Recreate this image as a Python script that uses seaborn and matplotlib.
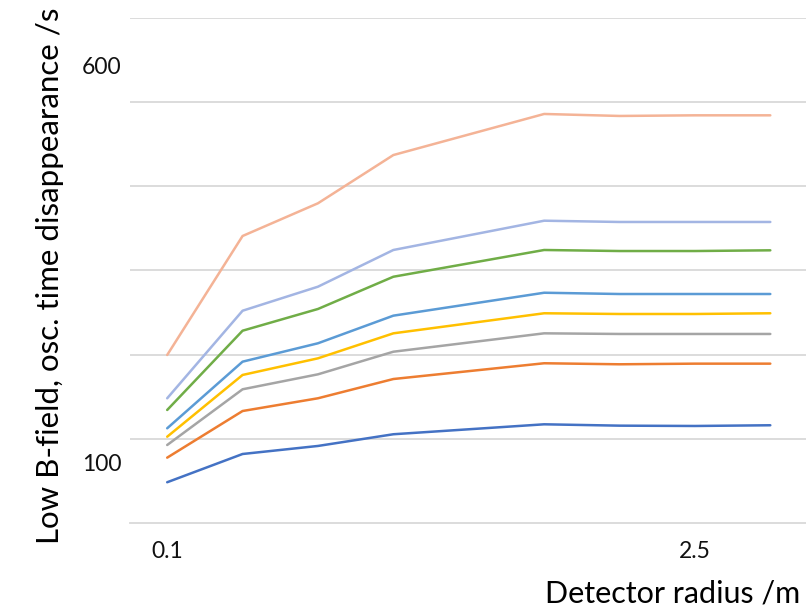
import numpy as np
import pandas as pd
import matplotlib
matplotlib.use("Agg")
import matplotlib.pyplot as plt
import seaborn as sns

# ---- data (category index on x; index 4 has no point, line connects 3 -> 5) ----
x_index = [0, 1, 2, 3, 5, 6, 7, 8]
x_tick_pos = [0, 7]
x_tick_labels = ["0.1", "2.5"]
y_tick_vals = [100, 600]
y_tick_labels = ["100", "600"]

s_darkblue = [75.8, 111.3, 121.4, 136.1, 148.6, 146.9, 146.5, 147.4]
s_orange   = [106.7, 165.3, 181.3, 205.5, 225.3, 224.0, 224.8, 224.8]
s_gray     = [122.6, 192.6, 211.4, 239.8, 262.9, 262.1, 262.1, 262.1]
s_yellow   = [133.0, 210.6, 231.5, 262.9, 288.1, 287.2, 287.2, 288.1]
s_blue     = [143.6, 227.3, 250.4, 285.1, 313.9, 312.3, 312.3, 312.3]
s_green    = [166.6, 266.2, 293.5, 334.0, 367.6, 366.3, 366.3, 367.2]
s_lavender = [181.3, 291.3, 321.5, 367.6, 404.4, 402.8, 402.8, 402.8]
s_salmon   = [235.7, 385.2, 426.3, 486.9, 538.5, 536.0, 536.8, 536.8]

series_names = ["s1", "s2", "s3", "s4", "s5", "s6", "s7", "s8"]
series_values = [s_darkblue, s_orange, s_gray, s_yellow, s_blue, s_green, s_lavender, s_salmon]
colors = ["#4472C4", "#ED7D31", "#A5A5A5", "#FFC000", "#5B9BD5", "#70AD47", "#A3B5E3", "#F4B396"]

rows = []
for name, vals in zip(series_names, series_values):
    for xi, v in zip(x_index, vals):
        rows.append({"x": xi, "y": v, "series": name})
df = pd.DataFrame(rows)

sns.set_theme(style="white")
plt.rcParams["font.family"] = ["Lato", "DejaVu Sans"]

fig = plt.figure(figsize=(8.06, 6.08), dpi=100)
W, H = 806, 608
left_px, right_px, top_px, bot_px = 129.5, 808, 17.5, 523
ax = fig.add_axes([left_px / W, 1 - bot_px / H, (right_px - left_px) / W, (bot_px - top_px) / H])

sns.lineplot(data=df, x="x", y="y", hue="series", hue_order=series_names,
             palette=colors, legend=False, linewidth=1.8, ax=ax, sort=True)

ylim = (24.6, 659.7)
ax.set_xlim(-0.5, 8.5)
ax.set_ylim(*ylim)

for s in ["top", "right", "left"]:
    ax.spines[s].set_visible(False)
ax.spines["bottom"].set_color("#D9D9D9")
ax.spines["bottom"].set_linewidth(1.3)

# y: labels at 100 / 600, gridlines evenly spaced
ax.set_yticks(y_tick_vals)
ax.set_yticklabels(y_tick_labels)
ax.set_yticks(np.linspace(ylim[0], ylim[1], 7)[1:], minor=True)
ax.tick_params(axis="y", which="both", length=0, labelsize=16.5, pad=6, colors="#111111")
ax.grid(axis="y", which="minor", color="#D9D9D9", linewidth=1.3)
ax.grid(axis="y", which="major", visible=False)
ax.grid(axis="x", visible=False)

# x: category ticks between categories
ax.set_xticks(x_tick_pos)
ax.set_xticklabels(x_tick_labels)
ax.set_xticks(np.arange(-0.5, 9.0, 1.0), minor=True)
ax.tick_params(axis="x", which="major", length=0, labelsize=16.5, pad=13, colors="#111111")
ax.tick_params(axis="x", which="minor", length=5, width=1.3, color="#D9D9D9", direction="out")

ax.set_xlabel("Detector radius /m", fontsize=22, color="black", ha="center", va="center")
ax.xaxis.set_label_coords((672.5 - left_px) / (right_px - left_px), (bot_px - 593) / (bot_px - top_px))
ax.set_ylabel("Low B-field, osc. time disappearance /s", fontsize=22.5, color="black",
              ha="center", va="center")
ax.yaxis.set_label_coords((50 - left_px) / (right_px - left_px), (bot_px - 276) / (bot_px - top_px))

fig.savefig("out.png", dpi=100)
